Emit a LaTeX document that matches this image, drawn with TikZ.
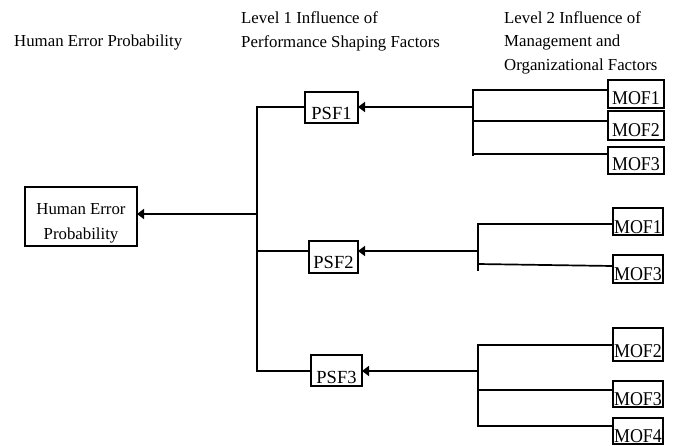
\documentclass[tikz,border=0pt]{standalone}
\usepackage{fontspec}
\setmainfont{Liberation Serif}
\newfontfamily\mofont[FakeStretch=0.92]{Liberation Serif}
\usetikzlibrary{arrows.meta}
\begin{document}
\begin{tikzpicture}[x=1pt,y=-1pt,
  ln/.style={line width=1.7pt},
  arr/.style={line width=1.7pt,-{Triangle[length=7pt,width=10pt]}},
  hdr/.style={anchor=base west,align=left,inner sep=0pt,font=\fontsize{16.8}{23.5}\selectfont},
  box/.style={draw,line width=1.7pt,inner sep=0pt,outer sep=0pt,anchor=north west},
  psfbox/.style={box,font=\fontsize{18.5}{20}\selectfont},
  mofbox/.style={box,font=\mofont\fontsize{19.5}{20}\selectfont},
  hepbox/.style={box,align=center,font=\fontsize{16.8}{24.5}\selectfont}]
\useasboundingbox (0,0) rectangle (674,445);
% headers (anchor at the baseline of the last line)
\node[hdr] (h1) at (14,46) {Human Error Probability};
\node[hdr] (h2) at (241,47) {Level 1 Influence of\\Performance Shaping Factors};
\node[hdr] (h3) at (504,70) {Level 2 Influence of\\Management and\\Organizational Factors};
% main boxes
\node[hepbox,minimum width=112pt,text height=52pt,text depth=7pt] (hep) at (25,187) {Human Error\\Probability};
\node[psfbox,minimum width=53pt,text height=27pt,text depth=4pt] (psf1) at (305,92) {PSF1};
\node[psfbox,minimum width=49pt,text height=27pt,text depth=5pt] (psf2) at (309,241) {PSF2};
\node[psfbox,minimum width=51pt,text height=28pt,text depth=3pt] (psf3) at (311,355) {PSF3};
% MOF boxes
\node[mofbox,minimum width=56pt,text height=24pt,text depth=4pt] (mof1a) at (608,80) {MOF1};
\node[mofbox,minimum width=56pt,text height=25pt,text depth=4pt] (mof2a) at (608,111) {MOF2};
\node[mofbox,minimum width=56pt,text height=23pt,text depth=4pt] (mof3a) at (608,147) {MOF3};
\node[mofbox,minimum width=50pt,text height=25pt,text depth=2pt] (mof1b) at (613,208) {MOF1};
\node[mofbox,minimum width=50pt,text height=25pt,text depth=3pt] (mof3b) at (613,255) {MOF3};
\node[mofbox,minimum width=50pt,text height=29pt,text depth=4pt] (mof2c) at (613,328) {MOF2};
\node[mofbox,minimum width=50pt,text height=24pt,text depth=2pt] (mof3c) at (613,381) {MOF3};
\node[mofbox,minimum width=50pt,text height=24pt,text depth=2pt] (mof4c) at (613,418) {MOF4};
% trunk coordinates
\coordinate (t1) at (257,107);
\coordinate (t2) at (257,251);
\coordinate (t3) at (257,371);
\coordinate (j0) at (257,214);
% bracket coordinates
\coordinate (b1top) at (473,90);
\coordinate (b1mid) at (473,107);
\coordinate (b1m2) at (473,121);
\coordinate (b1bot) at (473,154);
\coordinate (b1end) at (473,156);
\coordinate (b2top) at (478,224);
\coordinate (b2mid) at (478,251);
\coordinate (b2bot) at (478,264);
\coordinate (b2end) at (478,271);
\coordinate (b3top) at (478,345);
\coordinate (b3mid) at (478,371);
\coordinate (b3m2) at (478,390);
\coordinate (b3bot) at (478,426);
% trunk
\draw[ln] (t1 -| psf1.west) -- (t1) -- (t3) -- (t3 -| psf3.west);
\draw[ln] (t2) -- (t2 -| psf2.west);
\draw[arr] (j0) -- (j0 -| hep.east);
% level 2 group 1
\draw[ln] (b1top -| mof1a.west) -- (b1top) -- (b1end);
\draw[ln] (b1m2) -- (b1m2 -| mof2a.west);
\draw[ln] (b1bot) -- (b1bot -| mof3a.west);
\draw[arr] (b1mid) -- (b1mid -| psf1.east);
% group 2
\draw[ln] (b2top -| mof1b.west) -- (b2top) -- (b2end);
\draw[ln] (b2bot) -- ([yshift=-2pt]b2bot -| mof3b.west);
\draw[arr] (b2mid) -- (b2mid -| psf2.east);
% group 3
\draw[ln] (b3top -| mof2c.west) -- (b3top) -- (b3bot) -- (b3bot -| mof4c.west);
\draw[ln] (b3m2) -- (b3m2 -| mof3c.west);
\draw[arr] (b3mid) -- (b3mid -| psf3.east);
\end{tikzpicture}
\end{document}
